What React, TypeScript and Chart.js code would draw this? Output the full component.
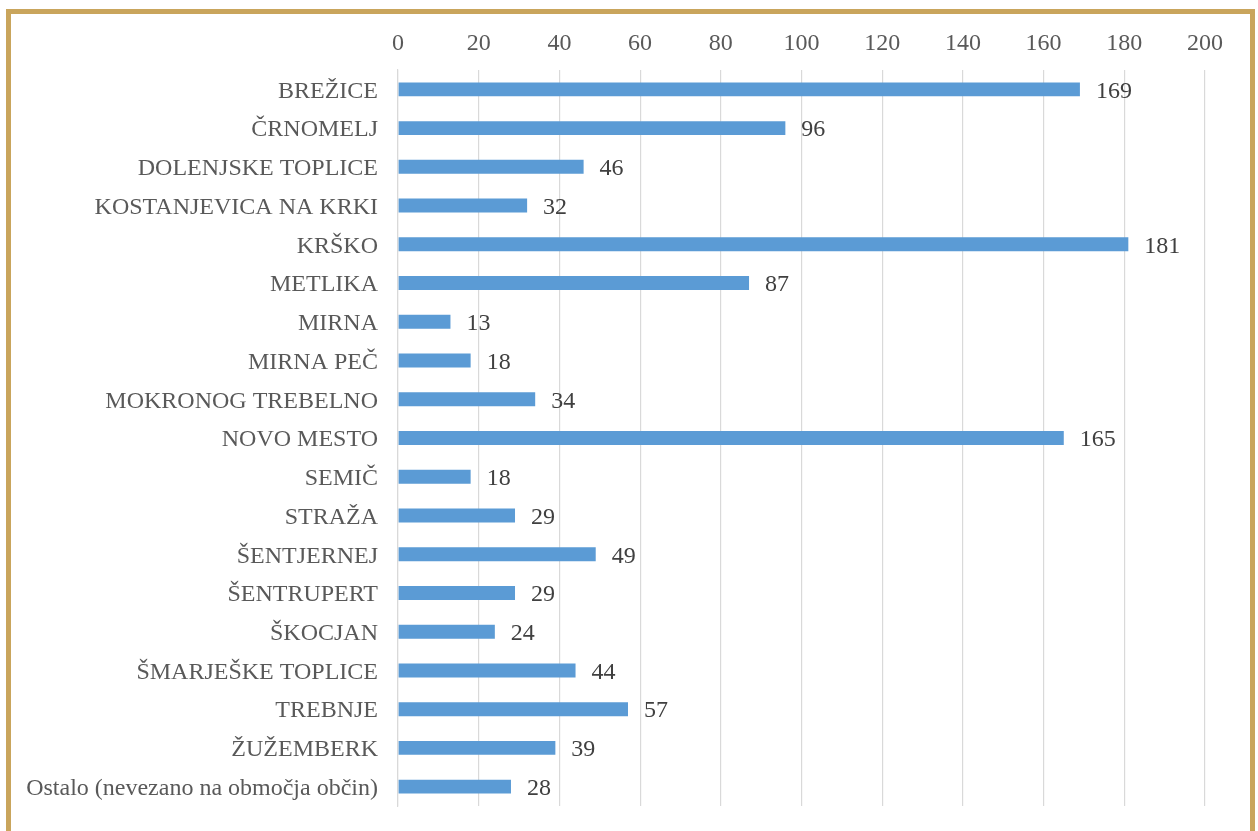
import React, { useEffect, useRef } from "react";
import { Chart, registerables } from "chart.js";

Chart.register(...registerables);

const categories = [
  "BREŽICE",
  "ČRNOMELJ",
  "DOLENJSKE TOPLICE",
  "KOSTANJEVICA NA KRKI",
  "KRŠKO",
  "METLIKA",
  "MIRNA",
  "MIRNA PEČ",
  "MOKRONOG TREBELNO",
  "NOVO MESTO",
  "SEMIČ",
  "STRAŽA",
  "ŠENTJERNEJ",
  "ŠENTRUPERT",
  "ŠKOCJAN",
  "ŠMARJEŠKE TOPLICE",
  "TREBNJE",
  "ŽUŽEMBERK",
  "Ostalo (nevezano na območja občin)",
];

const values = [169, 96, 46, 32, 181, 87, 13, 18, 34, 165, 18, 29, 49, 29, 24, 44, 57, 39, 28];

const axisMin = 0;
const axisMax = 200;
const axisStep = 20;

const FONT = "'Liberation Serif', 'Times New Roman', serif";

const valueLabels = {
  id: "valueLabels",
  afterDatasetsDraw(chart: any) {
    const ctx = chart.ctx;
    const meta = chart.getDatasetMeta(0);
    ctx.save();
    ctx.font = `24px ${FONT}`;
    ctx.fillStyle = "#404040";
    ctx.textAlign = "left";
    ctx.textBaseline = "middle";
    meta.data.forEach((bar: any, i: number) => {
      ctx.fillText(String(values[i]), bar.x + 16, bar.y + 2);
    });
    ctx.restore();
  },
};

export default function App() {
  const ref = useRef<HTMLCanvasElement | null>(null);

  useEffect(() => {
    if (!ref.current) return;
    const chart = new Chart(ref.current, {
      type: "bar",
      data: {
        labels: categories,
        datasets: [
          {
            data: values,
            backgroundColor: "#5B9BD5",
            borderWidth: 0,
            categoryPercentage: 1,
            barPercentage: 0.36,
          },
        ],
      },
      options: {
        indexAxis: "y",
        responsive: false,
        animation: false,
        maintainAspectRatio: false,
        layout: { padding: { left: 0, right: 53, top: 0, bottom: 25 } },
        plugins: { legend: { display: false }, tooltip: { enabled: false } },
        scales: {
          x: {
            position: "top",
            min: axisMin,
            max: axisMax,
            ticks: {
              stepSize: axisStep,
              color: "#595959",
              font: { family: FONT, size: 24 },
              padding: 12,
            },
            grid: { color: "#D9D9D9", lineWidth: 1.2, drawTicks: false },
            border: { display: false },
            afterFit(scale: any) {
              scale.height = 70;
              scale.paddingLeft = 0;
              scale.paddingRight = 0;
            },
          },
          y: {
            ticks: {
              color: "#595959",
              font: { family: FONT, size: 24 },
              padding: 20,
              labelOffset: 2,
              autoSkip: false,
            },
            grid: { display: false, drawTicks: false },
            border: { display: true, color: "#D9D9D9", width: 1.2 },
            afterFit(scale: any) {
              scale.width = 398;
              scale.paddingTop = 0;
              scale.paddingBottom = 0;
            },
          },
        },
      },
      plugins: [valueLabels],
    });
    return () => chart.destroy();
  }, []);

  return (
    <div style={{ position: "fixed", left: 0, top: 0, width: 1258, height: 831, overflow: "hidden", background: "#fff" }}>
      <div
        style={{
          position: "absolute",
          left: 6,
          top: 9,
          width: 1249,
          height: 900,
          boxSizing: "border-box",
          border: "5px solid #C9A55C",
        }}
      />
      <canvas ref={ref} width={1258} height={831} style={{ position: "absolute", left: 0, top: 0 }} />
    </div>
  );
}
